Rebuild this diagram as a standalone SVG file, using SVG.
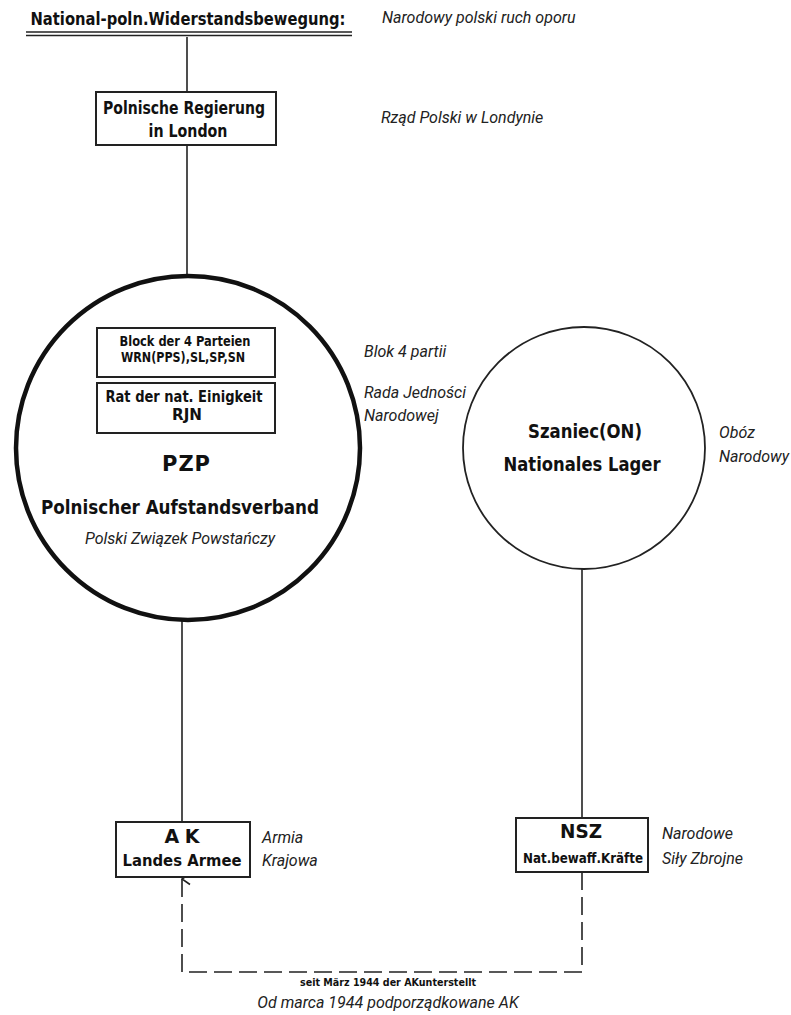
<svg xmlns="http://www.w3.org/2000/svg" width="791" height="1015" viewBox="0 0 791 1015">
<style>
.bg{fill:#fff}
.box{fill:#fff;stroke:#222;stroke-width:2}
.ln{stroke:#222;stroke-width:1.6;fill:none}
.dash{stroke:#222;stroke-width:1.6;fill:none;stroke-dasharray:18,7}
.de{font-family:"DejaVu Sans","Liberation Sans",sans-serif;font-weight:bold;fill:#111;text-anchor:middle}
.pl{font-family:Roboto,"Liberation Sans",sans-serif;font-style:italic;fill:#222;font-size:16px}
</style>
<defs>
<marker id="arr" markerWidth="14" markerHeight="14" refX="7" refY="1" orient="auto-start-reverse" markerUnits="userSpaceOnUse" viewBox="0 0 14 14">
<path d="M1.5,9 L7,1 L12.5,9" fill="none" stroke="#222" stroke-width="1.6"/>
</marker>
</defs>
<rect class="bg" x="0" y="0" width="791" height="1015"/>

<g id="connectors">
<line class="ln" x1="187" y1="37" x2="187" y2="92"/>
<line class="ln" x1="187" y1="145" x2="187" y2="276"/>
<line class="ln" x1="182" y1="620" x2="182" y2="822"/>
<line class="ln" x1="582" y1="569" x2="582" y2="818"/>
<path class="dash" d="M582,872 L582,972 L182,972 L182,879" marker-end="url(#arr)"/>
<text class="de" x="388" y="986" font-size="10" textLength="176" lengthAdjust="spacingAndGlyphs">seit März 1944 der AKunterstellt</text>
<text class="pl" x="388" y="1008" text-anchor="middle" font-size="17.5">Od marca 1944 podporządkowane AK</text>
</g>

<g id="title">
<text class="de" x="188" y="25" font-size="17" textLength="315" lengthAdjust="spacingAndGlyphs">National-poln.Widerstandsbewegung:</text>
<line class="ln" x1="26" y1="32" x2="352" y2="32" stroke-width="1.8"/>
<line class="ln" x1="26" y1="35.5" x2="352" y2="35.5" stroke-width="1.8"/>
<text class="pl" x="382" y="23">Narodowy polski ruch oporu</text>
</g>

<g id="regierung">
<rect class="box" x="96" y="92" width="180" height="53"/>
<text class="de" x="184" y="114" font-size="18" textLength="162" lengthAdjust="spacingAndGlyphs">Polnische Regierung</text>
<text class="de" x="188" y="137" font-size="18" textLength="79" lengthAdjust="spacingAndGlyphs">in London</text>
<text class="pl" x="381" y="123">Rząd Polski w Londynie</text>
</g>

<g id="pzp">
<circle cx="188" cy="448" r="172" fill="#fff" stroke="#111" stroke-width="4.5"/>
<rect class="box" x="97" y="328" width="178" height="49"/>
<text class="de" x="185" y="346" font-size="14" textLength="131" lengthAdjust="spacingAndGlyphs">Block der 4 Parteien</text>
<text class="de" x="183" y="362" font-size="14" textLength="124" lengthAdjust="spacingAndGlyphs">WRN(PPS),SL,SP,SN</text>
<rect class="box" x="97" y="383" width="178" height="50"/>
<text class="de" x="184" y="402" font-size="15" textLength="157" lengthAdjust="spacingAndGlyphs">Rat der nat. Einigkeit</text>
<text class="de" x="187" y="420" font-size="15" textLength="30" lengthAdjust="spacingAndGlyphs">RJN</text>
<text class="de" x="186" y="471" font-size="21" textLength="48" lengthAdjust="spacing">PZP</text>
<text class="de" x="180" y="514" font-size="19" textLength="278" lengthAdjust="spacingAndGlyphs">Polnischer Aufstandsverband</text>
<text class="pl" x="180" y="544" text-anchor="middle">Polski Związek Powstańczy</text>
<text class="pl" x="364" y="357">Blok 4 partii</text>
<text class="pl" x="364" y="398">Rada Jedności</text>
<text class="pl" x="364" y="421">Narodowej</text>
</g>

<g id="szaniec">
<circle cx="584" cy="448" r="121" fill="#fff" stroke="#222" stroke-width="1.8"/>
<text class="de" x="585" y="438" font-size="19" textLength="114" lengthAdjust="spacingAndGlyphs">Szaniec(ON)</text>
<text class="de" x="582" y="471" font-size="19" textLength="157" lengthAdjust="spacingAndGlyphs">Nationales Lager</text>
<text class="pl" x="719" y="438">Obóz</text>
<text class="pl" x="719" y="462">Narodowy</text>
</g>

<g id="ak">
<rect class="box" x="116" y="822" width="134" height="55"/>
<text class="de" x="182" y="843" font-size="19" textLength="35" lengthAdjust="spacing">AK</text>
<text class="de" x="182" y="866" font-size="15" textLength="119" lengthAdjust="spacingAndGlyphs">Landes Armee</text>
<text class="pl" x="262" y="843">Armia</text>
<text class="pl" x="262" y="866">Krajowa</text>
</g>

<g id="nsz">
<rect class="box" x="516" y="818" width="132" height="54"/>
<text class="de" x="581" y="838" font-size="19" textLength="42" lengthAdjust="spacingAndGlyphs">NSZ</text>
<text class="de" x="583" y="863" font-size="14" textLength="120" lengthAdjust="spacingAndGlyphs">Nat.bewaff.Kräfte</text>
<text class="pl" x="662" y="839">Narodowe</text>
<text class="pl" x="662" y="864">Siły Zbrojne</text>
</g>
</svg>
